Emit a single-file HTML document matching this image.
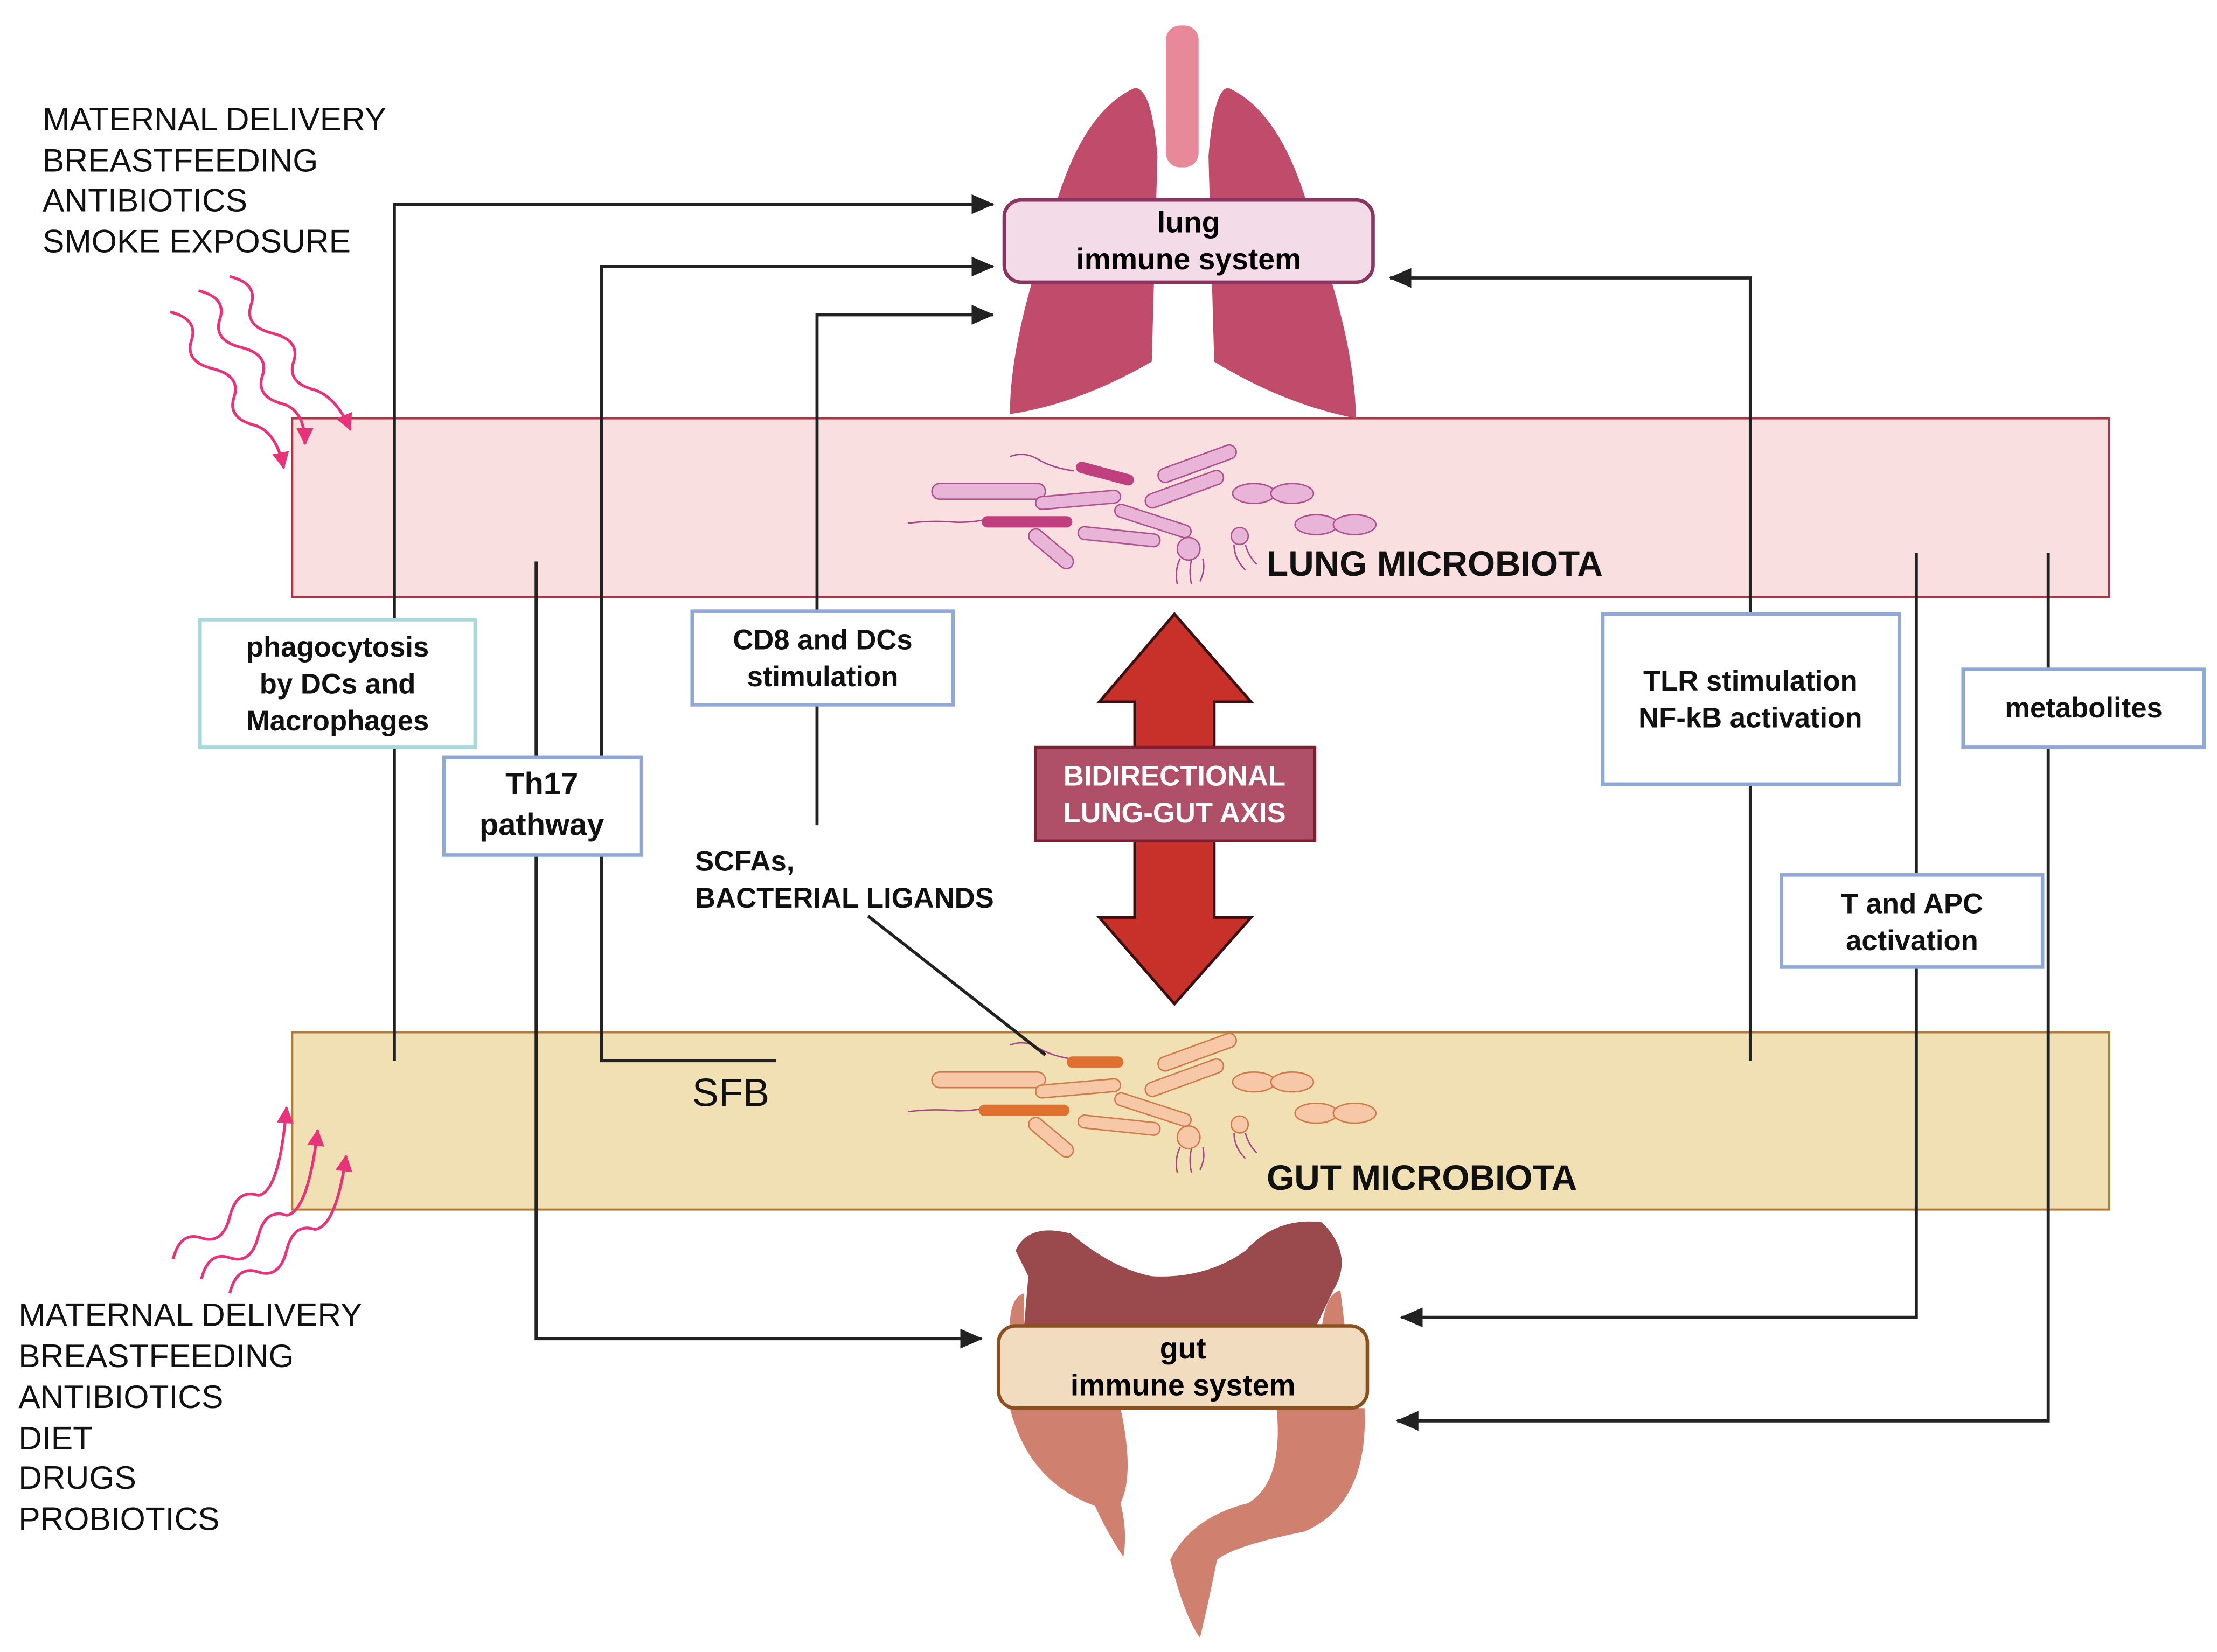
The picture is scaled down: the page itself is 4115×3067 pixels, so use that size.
<!DOCTYPE html>
<html><head><meta charset="utf-8"><style>
html,body{margin:0;padding:0;background:#fff}
svg{display:block}
text{font-family:"Liberation Sans Narrow","Liberation Sans",sans-serif}
.b{font-weight:bold}
</style></head><body>
<svg width="4115" height="3067" viewBox="0 0 1563 1165" preserveAspectRatio="none" xmlns="http://www.w3.org/2000/svg">
<defs>
<marker id="ah2" markerWidth="16" markerHeight="14" refX="15" refY="7" orient="auto" markerUnits="userSpaceOnUse"><path d="M0,0 L16,7 L0,14 Z" fill="#222"/></marker>
<marker id="pk" markerWidth="12" markerHeight="12" refX="11" refY="6" orient="auto" markerUnits="userSpaceOnUse"><path d="M0,0 L12,6 L0,12 Z" fill="#e8337a"/></marker>
<g id="bact">
 <path d="M712,322 q10,-4 20,2 q10,6 25,8" fill="none" stroke="#aa4488" stroke-width="1"/>
 <rect x="657" y="341" width="80" height="11" rx="5.5"/>
 <rect x="730" y="348" width="60" height="9" rx="4.5" transform="rotate(-5 760 352)"/>
 <rect x="815" y="322" width="58" height="10" rx="5" transform="rotate(-20 844 327)"/>
 <rect x="806" y="340" width="58" height="10" rx="5" transform="rotate(-20 835 345)"/>
 <rect x="785" y="363" width="56" height="9" rx="4.5" transform="rotate(18 813 367)"/>
 <rect x="760" y="374" width="58" height="9" rx="4.5" transform="rotate(6 789 378)"/>
 <rect x="722" y="382" width="38" height="10" rx="5" transform="rotate(40 741 387)"/>
 <circle cx="838" cy="387" r="8"/><circle cx="874" cy="378" r="6"/>
 <ellipse cx="884" cy="348" rx="15" ry="7"/><ellipse cx="911" cy="348" rx="15" ry="7"/>
 <ellipse cx="928" cy="370" rx="15" ry="7"/><ellipse cx="955" cy="370" rx="15" ry="7"/>
 <path d="M832,394 q-4,8 -2,18 M840,395 q-2,8 0,17 M848,394 q2,8 -2,16 M870,384 q0,10 8,18 M878,384 q2,8 8,14" fill="none" stroke="#aa4488" stroke-width="1"/>
 <path d="M640,369 q15,-2 30,-1 q10,1 22,-1" fill="none" stroke="#aa4488" stroke-width="1"/>
</g>
</defs>

<rect x="206" y="295" width="1281" height="126" fill="#f9dfe0" stroke="#b03345" stroke-width="1.5"/>
<rect x="206" y="728" width="1281" height="125" fill="#f0e0b4" stroke="#b57a35" stroke-width="1.5"/>

<g fill="#e8b4d8" stroke="#b0508f" stroke-width="1"><use href="#bact"/></g>
<rect x="758" y="330" width="42" height="8" rx="4" fill="#c0407f" transform="rotate(15 779 334)"/>
<rect x="692" y="364" width="64" height="8" rx="4" fill="#c0407f"/>
<g fill="#f7c8a8" stroke="#d07a4a" stroke-width="1"><use href="#bact" transform="translate(0,415)"/></g>
<rect x="752" y="745" width="40" height="8" rx="4" fill="#e07030"/>
<rect x="690" y="779" width="64" height="8" rx="4" fill="#e07030"/>

<rect x="822" y="18" width="23" height="100" rx="10" fill="#e8899a"/>
<path d="M800,62 Q760,80 740,160 Q712,240 712,292 Q760,285 812,255 L816,110 Q812,62 800,62 Z" fill="#c04b6b"/>
<path d="M866,62 Q906,80 926,160 Q955,240 956,295 Q905,285 856,255 L852,110 Q856,62 866,62 Z" fill="#c04b6b"/>

<path d="M712,935 Q712,915 722,912 L722,935 Z M932,935 Q935,912 945,910 L948,935 Z" fill="#d0806f"/>
<path d="M716,882 Q725,862 755,870 Q785,895 812,900 Q850,902 878,882 Q900,858 932,862 Q955,885 940,910 L928,935 L722,935 L725,900 Z" fill="#9a4a4c"/>
<path d="M712,993 L790,993 Q800,1040 790,1060 Q795,1080 792,1098 Q780,1080 772,1062 Q725,1045 712,993 Z" fill="#d0806f"/>
<path d="M900,993 L962,993 Q965,1060 920,1080 Q870,1090 858,1100 Q852,1130 846,1155 Q835,1140 825,1100 Q840,1070 880,1060 Q905,1045 900,993 Z" fill="#d0806f"/>

<g fill="none" stroke="#222" stroke-width="2.2">
 <polyline points="278,748 278,144 700,144" marker-end="url(#ah2)"/>
 <polyline points="547,748 424,748 424,188 700,188" marker-end="url(#ah2)"/>
 <polyline points="576,582 576,222 700,222" marker-end="url(#ah2)"/>
 <polyline points="1234,748 1234,196 980,196" marker-end="url(#ah2)"/>
 <polyline points="378,396 378,944 692,944" marker-end="url(#ah2)"/>
 <polyline points="1351,390 1351,929 988,929" marker-end="url(#ah2)"/>
 <polyline points="1444,390 1444,1002 985,1002" marker-end="url(#ah2)"/>
 <line x1="612" y1="646" x2="737" y2="744"/>
</g>

<rect x="708" y="141" width="260" height="58" rx="12" fill="#f3dbe8" stroke="#8a3560" stroke-width="2.5"/>
<text x="838" y="164" font-size="21" text-anchor="middle" class="b">lung</text>
<text x="838" y="190" font-size="21" text-anchor="middle" class="b">immune system</text>
<rect x="704" y="935" width="260" height="58" rx="12" fill="#f2dcc0" stroke="#8a5020" stroke-width="2.5"/>
<text x="834" y="958" font-size="21" text-anchor="middle" class="b">gut</text>
<text x="834" y="984" font-size="21" text-anchor="middle" class="b">immune system</text>

<g fill="#fff" stroke-width="2.5">
 <rect x="141" y="437" width="194" height="90" stroke="#a8d8dc"/>
 <rect x="313" y="534" width="139" height="69" stroke="#8fa8d8"/>
 <rect x="488" y="431" width="184" height="66" stroke="#8fa8d8"/>
 <rect x="1130" y="433" width="209" height="120" stroke="#8fa8d8"/>
 <rect x="1384" y="472" width="170" height="55" stroke="#8fa8d8"/>
 <rect x="1256" y="617" width="184" height="65" stroke="#8fa8d8"/>
</g>
<g class="b" font-size="20" text-anchor="middle" fill="#111">
 <text x="238" y="463">phagocytosis</text>
 <text x="238" y="489">by DCs and</text>
 <text x="238" y="515">Macrophages</text>
 <text x="382" y="560" font-size="22">Th17</text>
 <text x="382" y="589" font-size="22">pathway</text>
 <text x="580" y="458">CD8 and DCs</text>
 <text x="580" y="484">stimulation</text>
 <text x="1234" y="487">TLR stimulation</text>
 <text x="1234" y="513">NF-kB activation</text>
 <text x="1469" y="506">metabolites</text>
 <text x="1348" y="644">T and APC</text>
 <text x="1348" y="670">activation</text>
 <text x="490" y="614" text-anchor="start">SCFAs,</text>
 <text x="490" y="640" text-anchor="start">BACTERIAL LIGANDS</text>
 <text x="893" y="406" font-size="25" text-anchor="start">LUNG MICROBIOTA</text>
 <text x="893" y="839" font-size="25" text-anchor="start">GUT MICROBIOTA</text>
</g>
<text x="488" y="780" font-size="28" fill="#111">SFB</text>

<path d="M828,433 L882,495 L856,495 L856,647 L882,647 L828,708 L775,647 L800,647 L800,495 L775,495 Z" fill="#c8302a" stroke="#3a1010" stroke-width="2"/>
<rect x="730" y="527" width="197" height="66" fill="#b05068" stroke="#7a2030" stroke-width="2"/>
<g class="b" font-size="20" fill="#fff" text-anchor="middle">
 <text x="828" y="554">BIDIRECTIONAL</text>
 <text x="828" y="580">LUNG-GUT AXIS</text>
</g>

<g font-size="23" fill="#111">
 <text x="30" y="92">MATERNAL DELIVERY</text>
 <text x="30" y="121">BREASTFEEDING</text>
 <text x="30" y="149">ANTIBIOTICS</text>
 <text x="30" y="178">SMOKE EXPOSURE</text>
 <text x="13" y="935">MATERNAL DELIVERY</text>
 <text x="13" y="964">BREASTFEEDING</text>
 <text x="13" y="993">ANTIBIOTICS</text>
 <text x="13" y="1022">DIET</text>
 <text x="13" y="1050">DRUGS</text>
 <text x="13" y="1079">PROBIOTICS</text>
</g>

<g fill="none" stroke="#e8337a" stroke-width="2">
 <path d="M120,220 q20,5 15,20 q-5,15 15,20 q20,5 15,20 q-5,15 15,20 q15,5 20,30" marker-end="url(#pk)"/>
 <path d="M140,205 q20,5 15,20 q-5,15 15,20 q20,5 15,20 q-5,15 15,20 q15,5 15,28" marker-end="url(#pk)"/>
 <path d="M162,195 q20,5 15,20 q-5,15 15,20 q20,5 15,20 q-5,15 15,20 q15,5 25,28" marker-end="url(#pk)"/>
 <path d="M122,888 q5,-20 20,-15 q15,5 20,-15 q5,-20 20,-15 q15,-2 20,-62" marker-end="url(#pk)"/>
 <path d="M142,902 q5,-20 20,-15 q15,5 20,-15 q5,-20 20,-15 q15,-2 22,-60" marker-end="url(#pk)"/>
 <path d="M162,912 q5,-20 20,-15 q15,5 20,-15 q5,-20 20,-15 q15,-2 22,-52" marker-end="url(#pk)"/>
</g>
</svg>
</body></html>
